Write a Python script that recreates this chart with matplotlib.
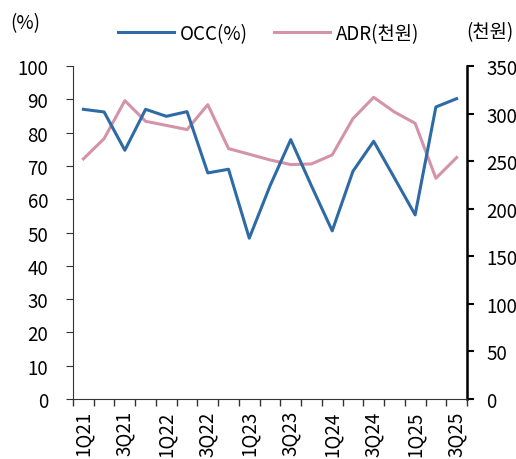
import numpy as np
import matplotlib
matplotlib.use("Agg")
import matplotlib.pyplot as plt

plt.rcParams['font.family'] = ['Noto Sans CJK KR', 'DejaVu Sans']

quarters = ['1Q21', '2Q21', '3Q21', '4Q21', '1Q22', '2Q22', '3Q22', '4Q22',
            '1Q23', '2Q23', '3Q23', '4Q23', '1Q24', '2Q24', '3Q24', '4Q24',
            '1Q25', '2Q25', '3Q25']
occ = [87.0, 86.2, 74.7, 87.0, 84.9, 86.3, 67.9, 69.0, 48.3, 64.0, 77.9,
       64.0, 50.5, 68.4, 77.4, 66.4, 55.3, 87.7, 90.2]
adr = [252.4, 273.7, 313.6, 291.9, 287.6, 283.2, 309.4, 263.2, 257.3, 251.3,
       246.4, 247.1, 256.6, 294.7, 317.1, 301.7, 289.8, 232.0, 253.8]

occ_color = '#2e6ba6'
adr_color = '#d493a8'

fig = plt.figure(figsize=(5.16, 4.60), dpi=100)
ax = fig.add_axes([0.1415, 0.1304, 0.7635, 0.7239])
ax2 = ax.twinx()

x = np.arange(len(quarters))
l1, = ax.plot(x, occ, color=occ_color, lw=2.2, label='OCC(%)', zorder=3)
l2, = ax2.plot(x, adr, color=adr_color, lw=2.2, label='ADR(천원)', zorder=2)
ax.set_zorder(ax2.get_zorder() + 1)
ax.patch.set_visible(False)

ax.set_xlim(-0.5, len(quarters) - 0.5)
ax.set_ylim(0, 100)
ax2.set_ylim(0, 350)
ax.set_yticks(range(0, 101, 10))
ax2.set_yticks(range(0, 351, 50))

ax.set_xticks(x[::2])
ax.set_xticklabels(quarters[::2], rotation=90, fontsize=13.5)
ax.set_xticks(np.arange(-0.5, len(quarters)), minor=True)
ax.tick_params(axis='x', which='major', length=0, pad=8)
ax.tick_params(axis='x', which='minor', length=5, width=1, color='#333333')
ax.tick_params(axis='y', labelsize=13.5, length=5, color='#333333', pad=13)
ax2.tick_params(axis='y', labelsize=13.5, length=5, width=1.5, pad=9)

for a in (ax, ax2):
    a.spines['top'].set_visible(False)
ax.spines['left'].set_color('#333333')
ax.spines['bottom'].set_color('#333333')
ax2.spines['right'].set_linewidth(1.8)
ax2.spines['left'].set_visible(False)
ax2.spines['bottom'].set_visible(False)

fig.text(0.02, 0.948, '(%)', fontsize=13.5, ha='left', va='center')
fig.text(0.995, 0.928, '(천원)', fontsize=13.5, ha='right', va='center')

fig.legend(handles=[l1, l2], loc='center', bbox_to_anchor=(0.52, 0.925),
           ncol=2, frameon=False, fontsize=13.5, handlelength=3.0,
           columnspacing=1.4, handletextpad=0.3)

fig.savefig('out.png', dpi=100)
